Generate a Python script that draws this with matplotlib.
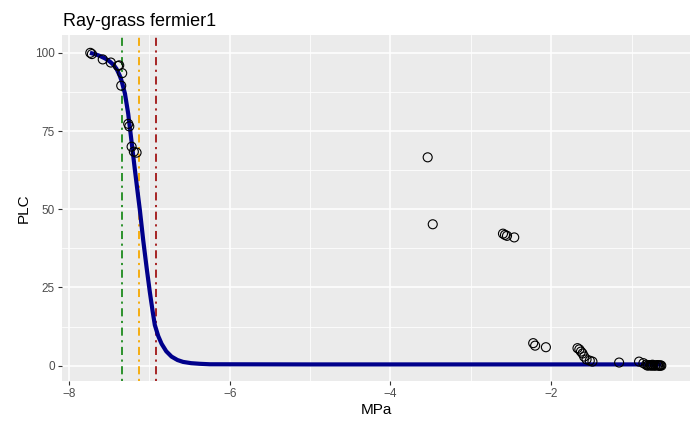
import matplotlib
matplotlib.use("Agg")
import matplotlib.pyplot as plt
from matplotlib.ticker import MultipleLocator

plt.rcParams['font.family'] = ['Liberation Sans', 'DejaVu Sans']

# ---- data ----
obs_mpa = [-7.735, -7.715, -7.58, -7.48, -7.39, -7.375, -7.338, -7.35,
           -7.263, -7.25, -7.221, -7.193, -7.159,
           -3.537, -3.474, -2.60, -2.575, -2.55, -2.46,
           -2.224, -2.20, -2.066, -1.673, -1.65, -1.63, -1.61, -1.59,
           -1.56, -1.52, -1.487, -1.155, -0.907, -0.853,
           -0.82, -0.80, -0.79, -0.77, -0.76, -0.75, -0.74, -0.73, -0.71,
           -0.70, -0.68, -0.67, -0.66, -0.65, -0.64, -0.63]
obs_plc = [100.0, 99.6, 97.9, 96.9, 95.8, 96.0, 93.5, 89.5,
           77.3, 76.5, 70.0, 68.4, 68.1,
           66.6, 45.2, 42.2, 41.8, 41.5, 41.0,
           7.2, 6.4, 5.9, 5.6, 5.2, 4.5, 3.9, 2.9,
           2.0, 1.6, 1.3, 1.0, 1.3, 0.8,
           0.3, 0.0, 0.2, 0.1, 0.2, 0.0, 0.3, 0.1, 0.0,
           0.1, 0.2, 0.1, 0.0, 0.0, 0.1, 0.0]

fit_mpa = [-7.739, -7.68, -7.615, -7.55, -7.491, -7.44, -7.407, -7.37,
           -7.345, -7.304, -7.263, -7.221, -7.180, -7.139, -7.118, -7.077,
           -7.035, -6.994, -6.96, -6.932, -6.89, -6.848, -6.79, -6.724,
           -6.65, -6.58, -6.48, -6.373, -6.248, -5.0, -0.63]
fit_plc = [100.0, 99.6, 99.0, 98.2, 97.2, 96.0, 94.8, 92.8,
           91.0, 87.0, 80.5, 71.5, 62.6, 54.0, 49.7, 40.2,
           31.5, 23.5, 17.5, 13.0, 9.5, 7.0, 4.6, 2.9,
           1.8, 1.2, 0.8, 0.6, 0.45, 0.4, 0.4]

p88 = -7.338
p50 = -7.13
p12 = -6.923

x_ticks = [-8, -6, -4, -2]
y_ticks = [0, 25, 50, 75, 100]

# ---- figure ----
fig = plt.figure(figsize=(6.98, 4.26), dpi=100)
ax = fig.add_axes([62/698, 1-381/426, (690-62)/698, (381-35)/426])
ax.set_facecolor('#EBEBEB')
for s in ax.spines.values():
    s.set_visible(False)

ax.set_xlim(-8.087, -0.273)
ax.set_ylim(-4.9, 105.7)
ax.set_xticks(x_ticks)
ax.set_yticks(y_ticks)
ax.xaxis.set_minor_locator(MultipleLocator(1))
ax.yaxis.set_minor_locator(MultipleLocator(12.5))
ax.grid(which='major', color='white', linewidth=1.1)
ax.grid(which='minor', color='white', linewidth=0.55)
ax.set_axisbelow(True)
ax.tick_params(which='major', length=3, width=0.8, color='#333333',
               labelcolor='#4D4D4D', labelsize=8.5, pad=2)
ax.tick_params(which='minor', length=0)

dd = (0, (1.2, 2.5, 4.5, 2.5))
ax.axvline(p88, color='#1E8B1E', linewidth=1.3, linestyle=dd, zorder=2)
ax.axvline(p50, color='#F5A800', linewidth=1.3, linestyle=dd, zorder=2)
ax.axvline(p12, color='#A01515', linewidth=1.3, linestyle=dd, zorder=2)

ax.plot(fit_mpa, fit_plc, color='#00008B', linewidth=3.0, zorder=3,
        solid_capstyle='butt')
ax.scatter(obs_mpa, obs_plc, s=42, facecolors='none', edgecolors='black',
           linewidths=0.8, zorder=4)

ax.set_xlabel('MPa', fontsize=11, color='black', labelpad=2)
ax.set_ylabel('PLC', fontsize=11, color='black', labelpad=3)
fig.text(63/698, 1-26/426, 'Ray-grass fermier1', fontsize=13, color='black',
         ha='left', va='baseline')

fig.savefig('out.png', dpi=100)
